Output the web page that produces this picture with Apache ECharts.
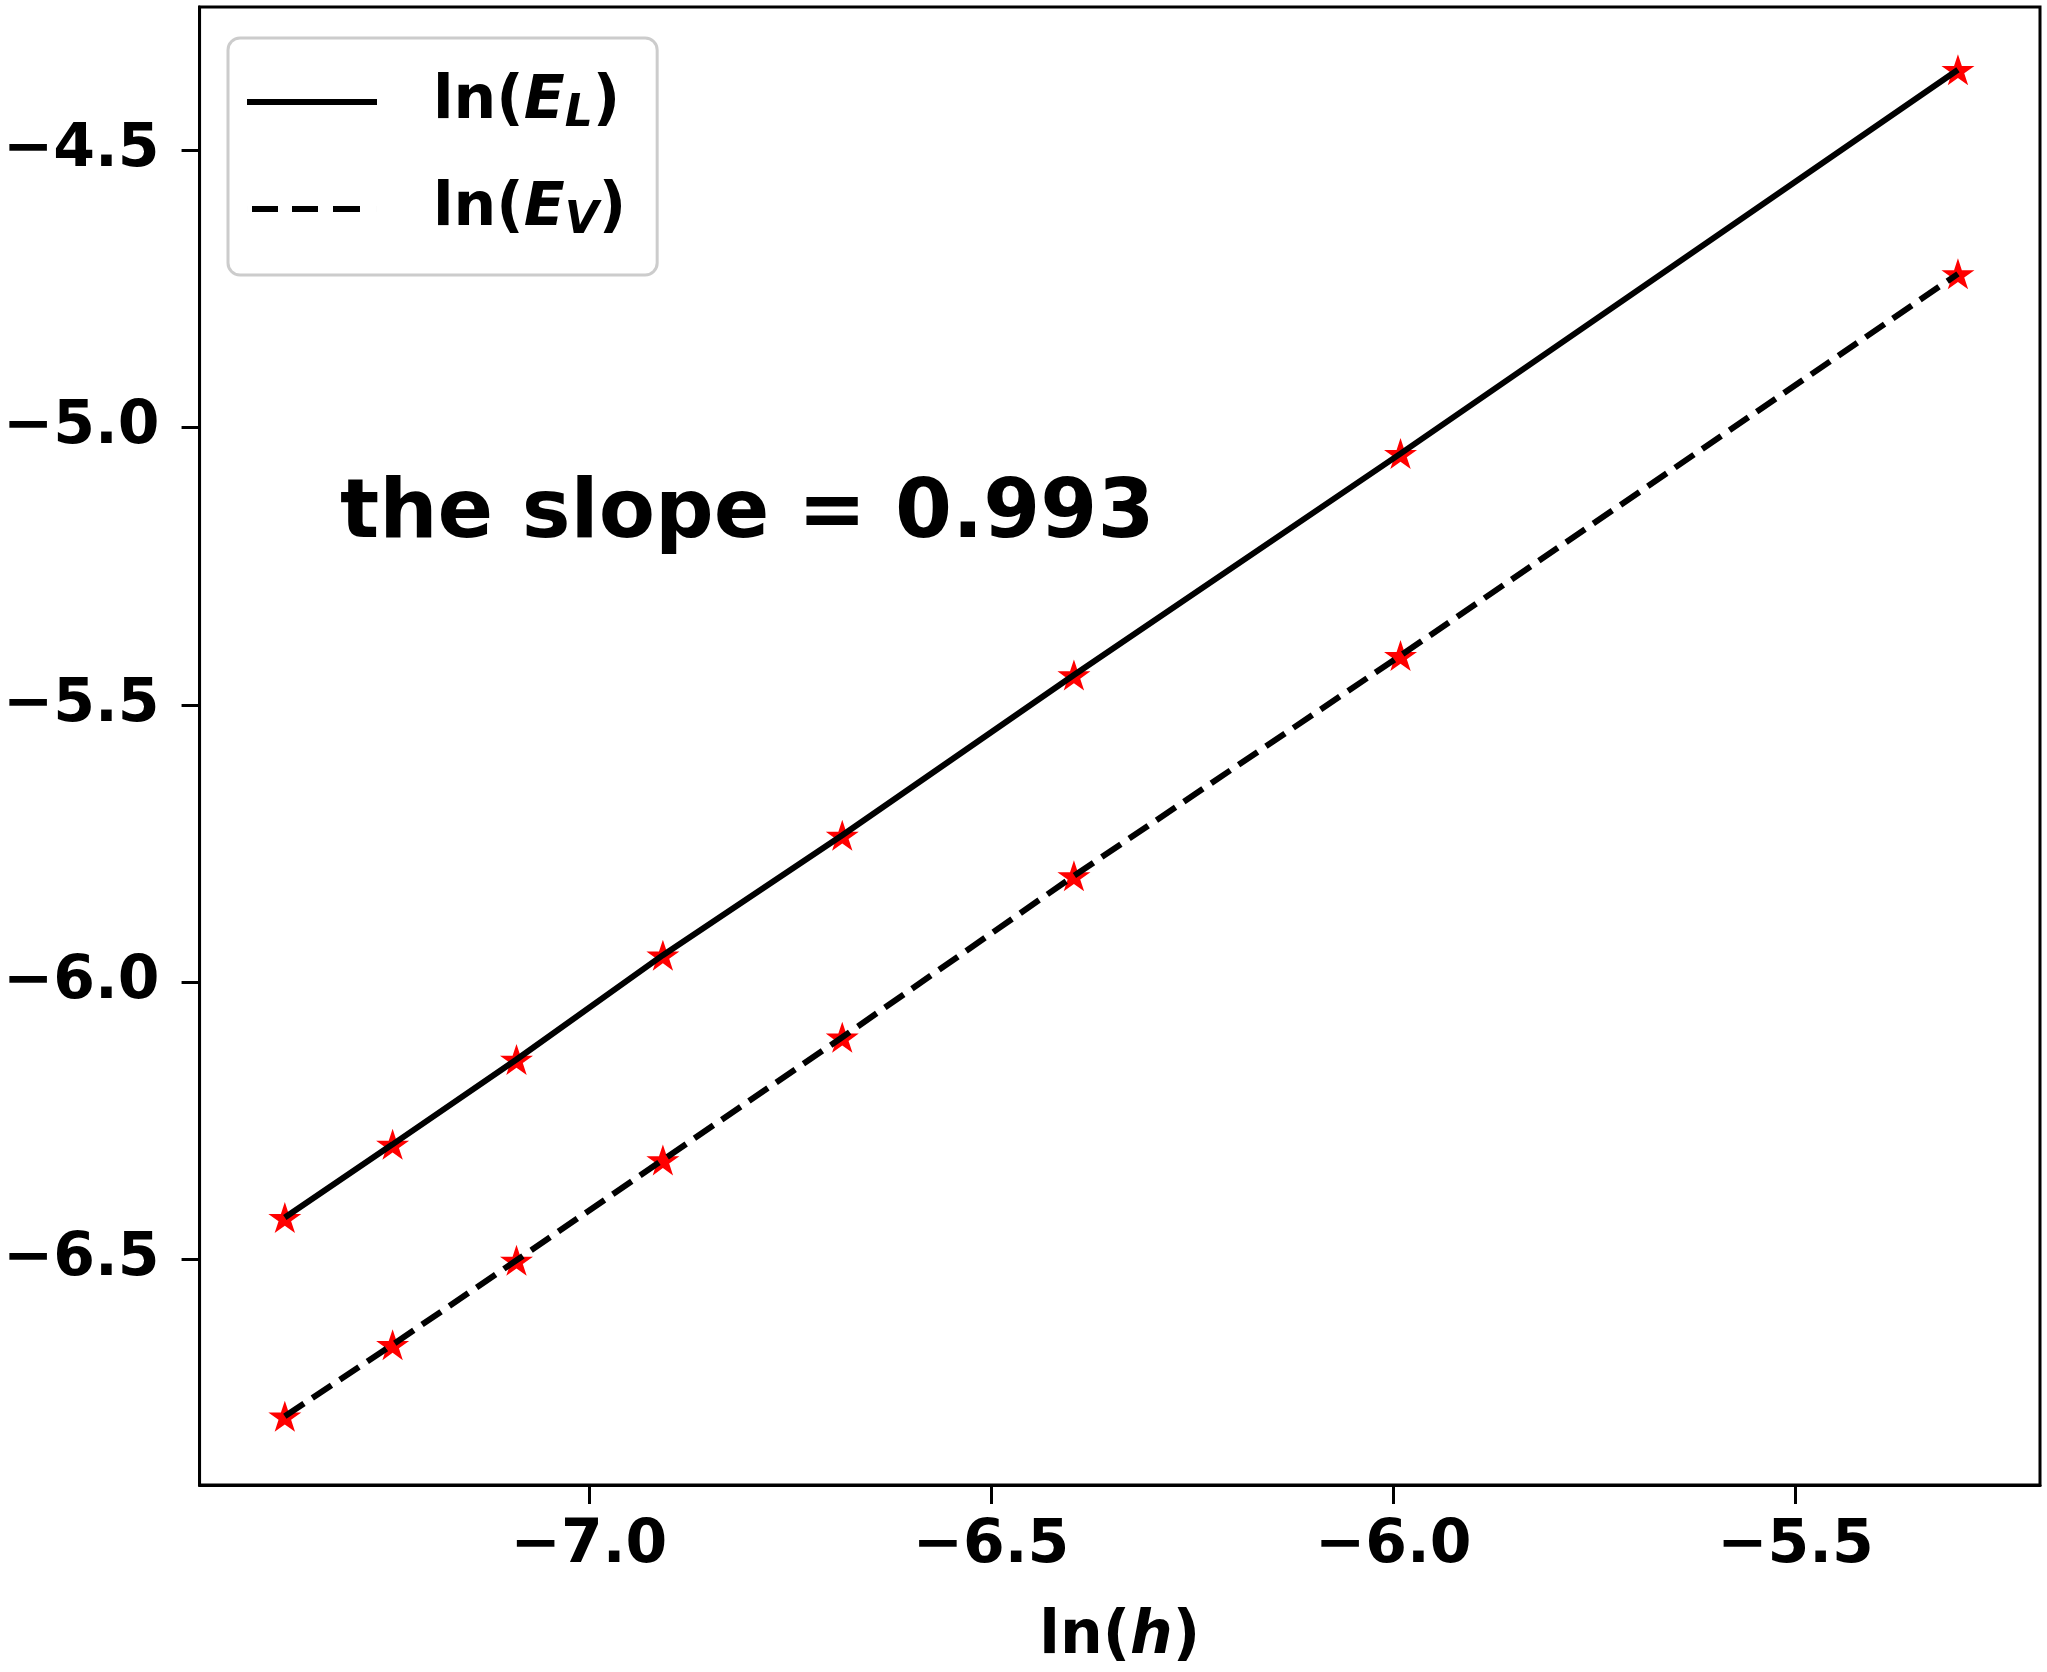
<!DOCTYPE html>
<html>
<head>
<meta charset="utf-8">
<script src="https://cdn.jsdelivr.net/npm/echarts@6/dist/echarts.min.js"></script>
<style>
html,body{margin:0;padding:0;background:#fff;}
#chart{width:2047px;height:1672px;}
</style>
</head>
<body>
<div id="chart"></div>
<script>
// ln(h) for h = 1/1600 ... 1/200
const lnH  = [-7.378, -7.244, -7.090, -6.908, -6.685, -6.397, -5.991, -5.298];
const lnEL = [-6.424, -6.292, -6.139, -5.951, -5.735, -5.446, -5.047, -4.355];
const lnEV = [-6.782, -6.653, -6.501, -6.320, -6.099, -5.808, -5.411, -4.723];
const xTicks = [-7.0, -6.5, -6.0, -5.5];
const yTicks = [-6.5, -6.0, -5.5, -5.0, -4.5];
const slopeText = 'the slope = 0.993';

const FONT = 'DejaVu Sans';
const STAR = 'path://M50 0 L61.23 34.55 L97.55 34.55 L68.17 55.9 L79.39 90.45 L50 69.1 L20.61 90.45 L31.83 55.9 L2.45 34.55 L38.77 34.55 Z';
const ICON_SOLID = 'path://M0 0H130V6H0Z';
const ICON_DASH = 'path://M0 0H0.01V6H0Z M5 0H31V6H5Z M45 0H71V6H45Z M86 0H113V6H86Z M129.99 0H130V6H129.99Z';

function fmt(v){ return (v < 0 ? '\u2212' : '') + Math.abs(v).toFixed(1); }
function pairs(xs, ys){ return xs.map((x,i)=>[x, ys[i]]); }

const chart = echarts.init(document.getElementById('chart'), null, {renderer:'canvas'});

const baseTxt = {fontFamily: FONT, fontWeight: 'bold', color: '#000'};

chart.setOption({
  animation: false,
  backgroundColor: '#fff',
  grid: {left: 196, right: 7, top: 7, bottom: 184, show: true, borderColor: '#000', borderWidth: 3, backgroundColor: 'transparent'},
  xAxis: {
    type: 'value', min: -7.484, max: -5.196,
    splitLine: {show: false},
    axisLine: {show: true, onZero: false, lineStyle: {color: '#000', width: 3}},
    axisTick: {show: true, length: 19, lineStyle: {color: '#000', width: 3}, customValues: xTicks},
    axisLabel: Object.assign({fontSize: 60, margin: 31, formatter: fmt, customValues: xTicks}, baseTxt),
    name: '{a|ln(}{i|h}{a|)}',
    nameLocation: 'middle', nameGap: 122,
    nameTextStyle: {rich: {
      a: Object.assign({fontSize: 60, lineHeight: 60}, baseTxt),
      i: Object.assign({fontSize: 60, lineHeight: 60, fontStyle: 'italic'}, baseTxt)
    }}
  },
  yAxis: {
    type: 'value', min: -6.906, max: -4.242,
    splitLine: {show: false},
    axisLine: {show: true, onZero: false, lineStyle: {color: '#000', width: 3}},
    axisTick: {show: true, length: 18, lineStyle: {color: '#000', width: 3}, customValues: yTicks},
    axisLabel: Object.assign({fontSize: 60, margin: 40, formatter: fmt, customValues: yTicks}, baseTxt)
  },
  legend: {
    orient: 'vertical', left: 228, top: 38,
    data: [{name: 'EL', icon: ICON_SOLID}, {name: 'EV', icon: ICON_DASH}],
    selectedMode: false,
    padding: [34, 31, 31, 19],
    itemGap: 42, itemWidth: 130, itemHeight: 6,
    itemStyle: {color: '#000', borderWidth: 0},
    backgroundColor: 'rgba(255,255,255,0.8)',
    borderColor: '#cccccc', borderWidth: 3, borderRadius: 12,
    formatter: function(n){ return n === 'EL' ? '{p|ln(}{e|E}{s|L}{a|)}' : '{p|ln(}{e|E}{s|V}{a|)}'; },
    textStyle: {rich: {
      p: Object.assign({fontSize: 60, lineHeight: 70, verticalAlign: 'middle', padding: [0,0,0,51]}, baseTxt),
      a: Object.assign({fontSize: 60, lineHeight: 70, verticalAlign: 'middle'}, baseTxt),
      e: Object.assign({fontSize: 60, lineHeight: 70, verticalAlign: 'middle', fontStyle: 'italic'}, baseTxt),
      s: Object.assign({fontSize: 44, lineHeight: 44, verticalAlign: 'bottom', fontStyle: 'italic'}, baseTxt)
    }}
  },
  graphic: [{
    type: 'text', left: 340, top: 475, z: 100,
    style: {text: slopeText, font: 'bold 82px "DejaVu Sans"', fill: '#000'}
  }],
  series: [
    {type: 'scatter', name: 'mEL', data: pairs(lnH, lnEL), symbol: STAR, symbolSize: [33, 31],
     itemStyle: {color: '#ff0000', opacity: 1}, z: 2},
    {type: 'scatter', name: 'mEV', data: pairs(lnH, lnEV), symbol: STAR, symbolSize: [33, 31],
     itemStyle: {color: '#ff0000', opacity: 1}, z: 2},
    {type: 'line', name: 'EL', data: pairs(lnH, lnEL), symbol: 'none', z: 3,
     lineStyle: {color: '#000', width: 6, type: 'solid'}, itemStyle: {color: '#000'}},
    {type: 'line', name: 'EV', data: pairs(lnH, lnEV), symbol: 'none', z: 3,
     lineStyle: {color: '#000', width: 6, type: [23, 10]}, itemStyle: {color: '#000'}}
  ]
});
</script>
</body>
</html>
